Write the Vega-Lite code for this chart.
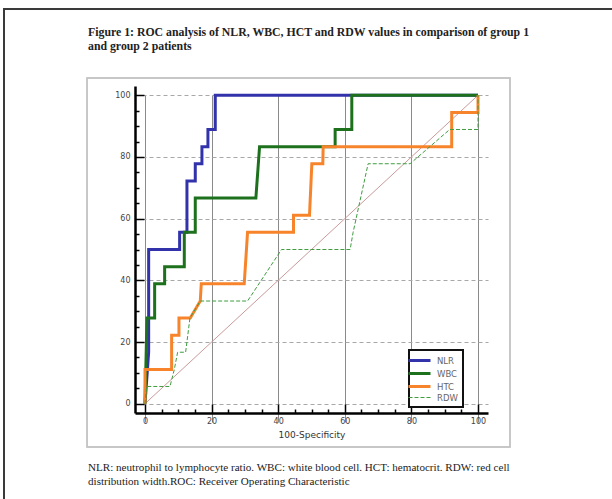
{
  "$schema": "https://vega.github.io/schema/vega-lite/v6.json",
  "width": 608,
  "height": 490,
  "autosize": {"type": "none"},
  "padding": {"left": 4, "top": 9, "right": 0, "bottom": 0},
  "background": "white",
  "title": {
    "text": ["Figure 1: ROC analysis of NLR, WBC, HCT and RDW values in comparison of group 1", "and group 2 patients"],
    "subtitle": ["NLR: neutrophil to lymphocyte ratio. WBC: white blood cell. HCT: hematocrit. RDW: red cell", "distribution width.ROC: Receiver Operating Characteristic"],
    "anchor": "start",
    "frame": "group",
    "orient": "top",
    "offset": -478,
    "dx": 84,
    "font": "Liberation Serif",
    "fontSize": 11.8,
    "fontWeight": "bold",
    "color": "#222222",
    "lineHeight": 14,
    "subtitleFont": "Liberation Serif",
    "subtitleFontSize": 11.1,
    "subtitleColor": "#222222",
    "subtitleLineHeight": 14,
    "subtitlePadding": 409
  },
  "datasets": {
    "roc": [
      {"series": "NLR", "fpr": 0, "tpr": 0},
      {"series": "NLR", "fpr": 1.1, "tpr": 16.7},
      {"series": "NLR", "fpr": 1.1, "tpr": 50},
      {"series": "NLR", "fpr": 10.4, "tpr": 50},
      {"series": "NLR", "fpr": 10.4, "tpr": 55.6},
      {"series": "NLR", "fpr": 12.6, "tpr": 55.6},
      {"series": "NLR", "fpr": 12.6, "tpr": 72.2},
      {"series": "NLR", "fpr": 15.1, "tpr": 72.2},
      {"series": "NLR", "fpr": 15.1, "tpr": 77.8},
      {"series": "NLR", "fpr": 17.1, "tpr": 77.8},
      {"series": "NLR", "fpr": 17.1, "tpr": 83.3},
      {"series": "NLR", "fpr": 18.9, "tpr": 83.3},
      {"series": "NLR", "fpr": 18.9, "tpr": 88.9},
      {"series": "NLR", "fpr": 21.1, "tpr": 88.9},
      {"series": "NLR", "fpr": 21.1, "tpr": 100},
      {"series": "NLR", "fpr": 100, "tpr": 100},
      {"series": "WBC", "fpr": 0, "tpr": 0},
      {"series": "WBC", "fpr": 0.6, "tpr": 27.8},
      {"series": "WBC", "fpr": 2.9, "tpr": 27.8},
      {"series": "WBC", "fpr": 2.9, "tpr": 38.9},
      {"series": "WBC", "fpr": 5.9, "tpr": 38.9},
      {"series": "WBC", "fpr": 5.9, "tpr": 44.4},
      {"series": "WBC", "fpr": 11.8, "tpr": 44.4},
      {"series": "WBC", "fpr": 11.8, "tpr": 55.6},
      {"series": "WBC", "fpr": 15.1, "tpr": 55.6},
      {"series": "WBC", "fpr": 15.1, "tpr": 66.7},
      {"series": "WBC", "fpr": 33.3, "tpr": 66.7},
      {"series": "WBC", "fpr": 34.4, "tpr": 83.3},
      {"series": "WBC", "fpr": 57.1, "tpr": 83.3},
      {"series": "WBC", "fpr": 57.1, "tpr": 88.9},
      {"series": "WBC", "fpr": 62.1, "tpr": 88.9},
      {"series": "WBC", "fpr": 62.1, "tpr": 100},
      {"series": "WBC", "fpr": 100, "tpr": 100},
      {"series": "HTC", "fpr": 0, "tpr": 0},
      {"series": "HTC", "fpr": 0, "tpr": 11.1},
      {"series": "HTC", "fpr": 8.0, "tpr": 11.1},
      {"series": "HTC", "fpr": 8.0, "tpr": 22.2},
      {"series": "HTC", "fpr": 10.2, "tpr": 22.2},
      {"series": "HTC", "fpr": 10.2, "tpr": 27.8},
      {"series": "HTC", "fpr": 13.6, "tpr": 27.8},
      {"series": "HTC", "fpr": 16.6, "tpr": 33.3},
      {"series": "HTC", "fpr": 16.9, "tpr": 38.9},
      {"series": "HTC", "fpr": 29.8, "tpr": 38.9},
      {"series": "HTC", "fpr": 30.8, "tpr": 55.6},
      {"series": "HTC", "fpr": 44.6, "tpr": 55.6},
      {"series": "HTC", "fpr": 44.6, "tpr": 61.1},
      {"series": "HTC", "fpr": 49.4, "tpr": 61.1},
      {"series": "HTC", "fpr": 50.1, "tpr": 77.8},
      {"series": "HTC", "fpr": 53.4, "tpr": 77.8},
      {"series": "HTC", "fpr": 53.5, "tpr": 83.3},
      {"series": "HTC", "fpr": 92.1, "tpr": 83.3},
      {"series": "HTC", "fpr": 92.1, "tpr": 94.4},
      {"series": "HTC", "fpr": 100, "tpr": 94.4},
      {"series": "HTC", "fpr": 100, "tpr": 100},
      {"series": "RDW", "fpr": 0, "tpr": 0},
      {"series": "RDW", "fpr": 0.5, "tpr": 5.6},
      {"series": "RDW", "fpr": 7.5, "tpr": 5.6},
      {"series": "RDW", "fpr": 8.8, "tpr": 11.1},
      {"series": "RDW", "fpr": 9.8, "tpr": 16.7},
      {"series": "RDW", "fpr": 12.2, "tpr": 16.7},
      {"series": "RDW", "fpr": 13.5, "tpr": 27.8},
      {"series": "RDW", "fpr": 16.6, "tpr": 33.3},
      {"series": "RDW", "fpr": 30.8, "tpr": 33.3},
      {"series": "RDW", "fpr": 41.0, "tpr": 50},
      {"series": "RDW", "fpr": 61.6, "tpr": 50},
      {"series": "RDW", "fpr": 62.5, "tpr": 55.6},
      {"series": "RDW", "fpr": 67.0, "tpr": 77.8},
      {"series": "RDW", "fpr": 79.6, "tpr": 77.8},
      {"series": "RDW", "fpr": 91.5, "tpr": 88.9},
      {"series": "RDW", "fpr": 100, "tpr": 88.9},
      {"series": "RDW", "fpr": 100, "tpr": 100}
    ],
    "diag": [
      {"fpr": 0, "tpr": 0},
      {"fpr": 100, "tpr": 100}
    ]
  },
  "encoding": {
    "x": {
      "field": "fpr",
      "type": "quantitative",
      "scale": {"domain": [-3, 103], "range": [131, 484], "nice": false, "zero": false},
      "axis": {
        "title": "100-Specificity",
        "values": [0, 5, 10, 15, 20, 25, 30, 35, 40, 45, 50, 55, 60, 65, 70, 75, 80, 85, 90, 95, 100],
        "labelExpr": "datum.value % 20 === 0 ? datum.label : ''",
        "labelOverlap": false,
        "offset": -86,
        "grid": true,
        "gridColor": "#8a8a8a",
        "gridWidth": 1,
        "gridOpacity": {"condition": {"test": "datum.value % 20 === 0", "value": 1}, "value": 0},
        "tickSize": {"condition": {"test": "datum.value % 20 === 0", "value": -9}, "value": -4},
        "labelPadding": 13,
        "titlePadding": 0
      }
    },
    "y": {
      "field": "tpr",
      "type": "quantitative",
      "scale": {"domain": [-3, 103], "range": [404, 77], "nice": false, "zero": false},
      "axis": {
        "title": null,
        "values": [0, 5, 10, 15, 20, 25, 30, 35, 40, 45, 50, 55, 60, 65, 70, 75, 80, 85, 90, 95, 100],
        "labelExpr": "datum.value % 20 === 0 ? datum.label : ''",
        "labelOverlap": false,
        "offset": -131,
        "grid": true,
        "gridColor": "#a8a8a8",
        "gridDash": [4, 3],
        "gridWidth": 1,
        "gridOpacity": {"condition": {"test": "datum.value % 20 === 0", "value": 1}, "value": 0},
        "tickSize": {"condition": {"test": "datum.value % 20 === 0", "value": -9}, "value": -4},
        "labelPadding": 14
      }
    }
  },
  "layer": [
    {
      "data": {"name": "diag"},
      "mark": {"type": "rect", "fill": null, "stroke": "#c4c4c4", "strokeWidth": 1.5, "clip": false},
      "encoding": {
        "x": {"datum": -17.4, "type": "quantitative"},
        "x2": {"datum": 109.6},
        "y": {"datum": -14.0, "type": "quantitative"},
        "y2": {"datum": 105.6}
      }
    },
    {
      "data": {"name": "diag"},
      "mark": {"type": "line", "color": "#c99a9a", "strokeWidth": 1},
      "encoding": {}
    },
    {
      "data": {"name": "roc"},
      "mark": {"type": "line", "strokeJoin": "miter"},
      "encoding": {
        "order": {"value": null},
        "color": {
          "field": "series",
          "type": "nominal",
          "scale": {"domain": ["NLR", "WBC", "HTC", "RDW"], "range": ["#3232aa", "#1d711d", "#f7842a", "#3f9c3f"]},
          "legend": {
            "orient": "none",
            "legendX": 405,
            "legendY": 341,
            "title": null,
            "strokeColor": "#111111",
            "fillColor": "white",
            "padding": 5,
            "symbolType": "M-2.75,0H2.75",
            "symbolSize": 64,
            "symbolStrokeWidth": 3,
            "labelOffset": 12,
            "labelExpr": "datum.label + '\u00a0\u00a0\u00a0\u00a0\u00a0'",
            "labelFont": "DejaVu Sans",
            "labelFontSize": 8.5,
            "labelColor": "#666666",
            "rowPadding": 0
          }
        },
        "strokeWidth": {
          "field": "series",
          "type": "nominal",
          "scale": {"type": "ordinal", "domain": ["NLR", "WBC", "HTC", "RDW"], "range": [3, 3, 3, 1]},
          "legend": null
        },
        "strokeDash": {
          "field": "series",
          "type": "nominal",
          "scale": {"domain": ["NLR", "WBC", "HTC", "RDW"], "range": [[1, 0], [1, 0], [1, 0], [4, 2]]},
          "legend": null
        }
      }
    }
  ],
  "config": {
    "view": {"stroke": "#3a3a3a", "strokeWidth": 2, "strokeDash": [608, 1098, 490, 20]},
    "axis": {
      "domainColor": "#000000",
      "domainWidth": 2.5,
      "tickColor": "#000000",
      "tickWidth": 1.5,
      "labelFont": "DejaVu Sans",
      "labelFontSize": 8,
      "labelColor": "#444444",
      "titleFont": "DejaVu Sans",
      "titleFontSize": 9,
      "titleFontWeight": "normal",
      "titleColor": "#333333"
    },
    "legend": {"strokeWidth": 2}
  }
}
